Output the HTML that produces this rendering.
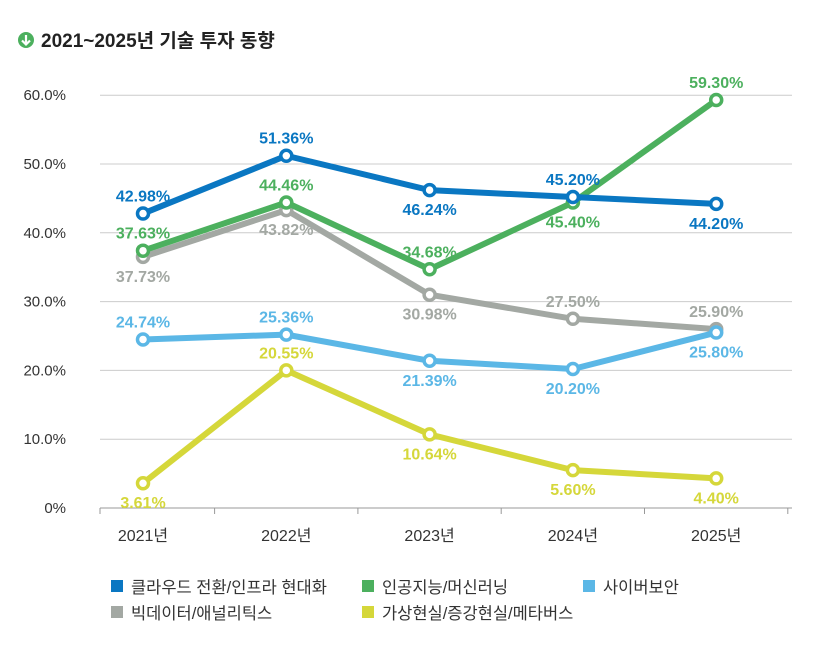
<!DOCTYPE html>
<html><head><meta charset="utf-8">
<style>
body{margin:0;background:#fff;font-family:"Liberation Sans","Noto Sans CJK KR",sans-serif;}
svg text{font-family:"Liberation Sans","Noto Sans CJK KR",sans-serif;}
</style></head>
<body>
<svg id="chart" width="838" height="658" viewBox="0 0 838 658" xmlns="http://www.w3.org/2000/svg">
<g>
<circle cx="26" cy="40" r="8" fill="#4cb05e"/>
<path d="M26 35 V44 M22 40.5 L26 44.5 L30 40.5" stroke="#fff" stroke-width="2.2" fill="none"/>
<text x="41" y="47" font-size="19" font-weight="bold" fill="#222">2021~2025년 기술 투자 동향</text>
</g>
<g id="grid"></g><g id="series"></g><g id="labels"></g>
<g font-size="16.5" fill="#333">
<rect x="111" y="580" width="12" height="12" fill="#0a77c2"/><text x="131" y="593">클라우드 전환/인프라 현대화</text>
<rect x="362" y="580" width="12" height="12" fill="#4cb05e"/><text x="382" y="593">인공지능/머신러닝</text>
<rect x="583" y="580" width="12" height="12" fill="#5bb7e6"/><text x="603" y="593">사이버보안</text>
<rect x="111" y="606" width="12" height="12" fill="#a3a8a3"/><text x="131" y="619">빅데이터/애널리틱스</text>
<rect x="362" y="606" width="12" height="12" fill="#d5d73a"/><text x="382" y="619">가상현실/증강현실/메타버스</text>
</g>
</svg>
<script>
const categories=["2021년","2022년","2023년","2024년","2025년"];
const yTicks=[0,10,20,30,40,50,60];
const yTickLabels=["0%","10.0%","20.0%","30.0%","40.0%","50.0%","60.0%"];
const seriesNames=["gray","lightblue","yellow","green","blue"];
const seriesColors=["#a3a8a3","#5bb7e6","#d5d73a","#4cb05e","#0a77c2"];
const grayVals=[36.5,43.3,31.0,27.5,26.0];
const lightblueVals=[24.5,25.2,21.4,20.2,25.5];
const yellowVals=[3.6,20.0,10.7,5.5,4.3];
const greenVals=[37.4,44.4,34.7,44.4,59.3];
const blueVals=[42.8,51.2,46.2,45.2,44.2];
const grayLabels=["37.73%","43.82%","30.98%","27.50%","25.90%"];
const lightblueLabels=["24.74%","25.36%","21.39%","20.20%","25.80%"];
const yellowLabels=["3.61%","20.55%","10.64%","5.60%","4.40%"];
const greenLabels=["37.63%","44.46%","34.68%","45.40%","59.30%"];
const blueLabels=["42.98%","51.36%","46.24%","45.20%","44.20%"];
const grayPlace=["b","b","b","a","a"];
const lightbluePlace=["a","a","b","b","b"];
const yellowPlace=["b","a","b","b","b"];
const greenPlace=["a","a","a","b","a"];
const bluePlace=["a","a","b","a","b"];

const NS="http://www.w3.org/2000/svg";
const x=i=>143+i*143.3;
const y=v=>508-v*6.88;
function mk(tag,attrs,parent){const e=document.createElementNS(NS,tag);for(const k in attrs)e.setAttribute(k,attrs[k]);parent.appendChild(e);return e;}
const grid=document.getElementById('grid'),ser=document.getElementById('series'),lab=document.getElementById('labels');
yTicks.forEach((t,i)=>{
  const l=mk('line',{x1:100,x2:792,y1:y(t),y2:y(t),stroke:i===0?'#999':'#ccc','stroke-width':1},grid);
  
  
  const tx=mk('text',{x:66,y:y(t)+5,'text-anchor':'end','font-size':15,fill:'#333'},grid);
  tx.textContent=yTickLabels[i];
  
  
});
categories.forEach((c,i)=>{
  const tk=mk('line',{x1:x(i)+71.6,x2:x(i)+71.6,y1:508,y2:514,stroke:'#999'},grid);
  
  
  const tx=mk('text',{x:x(i),y:541,'text-anchor':'middle','font-size':16,fill:'#333'},grid);
  tx.textContent=c;
  
  
});
const tk0=mk('line',{x1:100,x2:100,y1:508,y2:514,stroke:'#999'},grid);


const allVals={gray:grayVals,lightblue:lightblueVals,yellow:yellowVals,green:greenVals,blue:blueVals};
const allLabels={gray:grayLabels,lightblue:lightblueLabels,yellow:yellowLabels,green:greenLabels,blue:blueLabels};
const allPlace={gray:grayPlace,lightblue:lightbluePlace,yellow:yellowPlace,green:greenPlace,blue:bluePlace};
seriesNames.forEach((n,si)=>{
  const vals=allVals[n],col=seriesColors[si];
  const p=mk('polyline',{points:vals.map((v,i)=>x(i)+','+y(v)).join(' '),fill:'none',stroke:col,'stroke-width':6,'stroke-linejoin':'round'},ser);
  
  
  vals.forEach((v,i)=>{
    const c=mk('circle',{cx:x(i),cy:y(v),r:5.5,fill:'#fff',stroke:col,'stroke-width':3.5},ser);
    
    
    const above=allPlace[n][i]==='a';
    const t=mk('text',{x:x(i),y:above?y(v)-12:y(v)+25,'text-anchor':'middle','font-size':16,'font-weight':'bold',fill:col},lab);
    t.textContent=allLabels[n][i];
    
    
  });
});
</script>
</body></html>
